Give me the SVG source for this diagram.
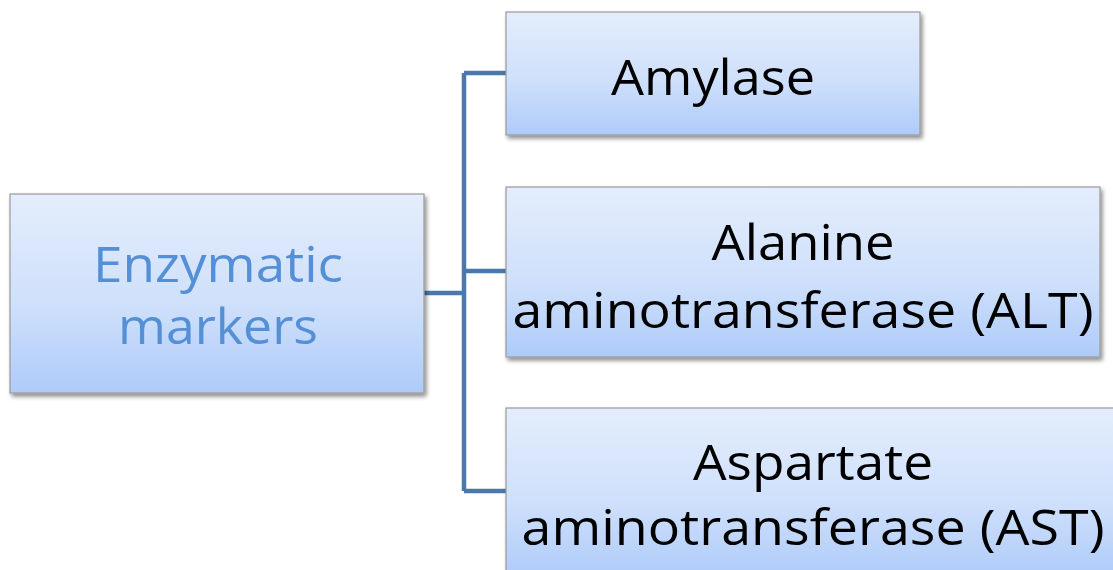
<svg xmlns="http://www.w3.org/2000/svg" width="1113" height="570" viewBox="0 0 1113 570">
<style>
.box{fill:url(#g);stroke:#9a9a9a;stroke-width:1.2;filter:url(#sh)}
.t{font-family:"Open Sans","Liberation Sans",sans-serif;font-size:50px;fill:#000;text-anchor:middle}
.tb{fill:#5590d6}
.c{fill:none;stroke:#4a78ad;stroke-width:4.5}
</style>
<defs>
<linearGradient id="g" x1="0" y1="0" x2="0" y2="1">
<stop offset="0" stop-color="#e4edfc"/>
<stop offset="0.55" stop-color="#cfe0fb"/>
<stop offset="1" stop-color="#aecbf9"/>
</linearGradient>
<filter id="sh" x="-5%" y="-5%" width="115%" height="120%">
<feGaussianBlur in="SourceAlpha" stdDeviation="2"/>
<feOffset dx="2" dy="3" result="b"/>
<feComponentTransfer><feFuncA type="linear" slope="0.45"/></feComponentTransfer>
<feMerge><feMergeNode/><feMergeNode in="SourceGraphic"/></feMerge>
</filter>
</defs>
<g id="connectors">
<path class="c" d="M424 293 H464 M464 73 V491 M464 73 H506 M464 271 H506 M464 491 H506"/>
</g>
<g id="enzymatic">
<rect class="box" x="10" y="194" width="414" height="199"/>
<text class="t tb" x="218" y="282" textLength="250" lengthAdjust="spacingAndGlyphs">Enzymatic</text>
<text class="t tb" x="218" y="344" textLength="200" lengthAdjust="spacingAndGlyphs">markers</text>
</g>
<g id="amylase">
<rect class="box" x="506" y="12" width="414" height="123"/>
<text class="t" x="713" y="95" textLength="204" lengthAdjust="spacingAndGlyphs">Amylase</text>
</g>
<g id="alt">
<rect class="box" x="506" y="187" width="594" height="170"/>
<text class="t" x="803" y="260" textLength="183" lengthAdjust="spacingAndGlyphs">Alanine</text>
<text class="t" x="803" y="328" textLength="581" lengthAdjust="spacingAndGlyphs">aminotransferase (ALT)</text>
</g>
<g id="ast">
<rect class="box" x="506" y="408" width="614" height="170"/>
<text class="t" x="813" y="480" textLength="240" lengthAdjust="spacingAndGlyphs">Aspartate</text>
<text class="t" x="813" y="545" textLength="583" lengthAdjust="spacingAndGlyphs">aminotransferase (AST)</text>
</g>
</svg>
